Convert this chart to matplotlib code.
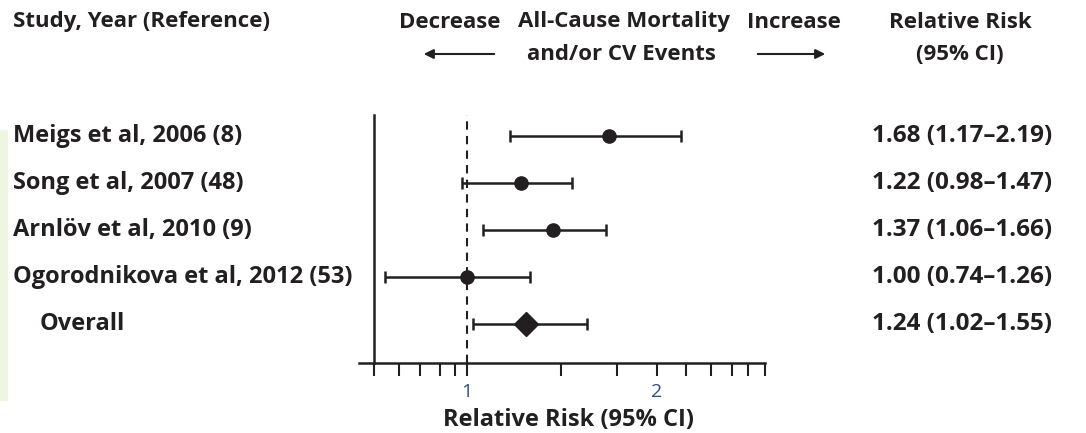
import numpy as np
import matplotlib as mpl
mpl.use("Agg")
import matplotlib.pyplot as plt
from matplotlib.transforms import blended_transform_factory
from matplotlib.patches import Rectangle, FancyArrowPatch

plt.rcParams['font.family'] = ['Open Sans', 'DejaVu Sans']
plt.rcParams['font.weight'] = 'bold'

ink = '#231f20'
tick_blue = '#2f4f86'

# data
studies = ['Meigs et al, 2006 (8)', 'Song et al, 2007 (48)', 'Arnlöv et al, 2010 (9)',
           'Ogorodnikova et al, 2012 (53)', 'Overall']
rr = [1.68, 1.22, 1.37, 1.00, 1.24]
ci_low = [1.17, 0.98, 1.06, 0.74, 1.02]
ci_high = [2.19, 1.47, 1.66, 1.26, 1.55]
tick_vals = [0.71, 0.78, 0.84, 0.905, 0.955, 1, 1.41, 1.73, 2, 2.23, 2.44, 2.64, 2.8, 2.97]
tick_text = ['', '', '', '', '', '1', '', '', '2', '', '', '', '', '']

W, H = 1086, 433
fig = plt.figure(figsize=(W / 100, H / 100), dpi=100)
ax = fig.add_axes([359 / W, 1 - 362.7 / H, (765 - 359) / W, (362.7 - 115) / H])

# faint green strip at left edge
fig.patches.append(Rectangle((0, 1 - 400 / H), 7 / W, 270 / H, transform=fig.transFigure,
                             color='#eef5e2', zorder=0))

ypos = np.arange(len(studies))[::-1] + 1.0

for i in range(len(studies)):
    last = i == len(studies) - 1
    ax.errorbar(rr[i], ypos[i],
                xerr=[[rr[i] - ci_low[i]], [ci_high[i] - rr[i]]],
                fmt='D' if last else 'o', color=ink, ecolor=ink,
                markersize=12 if last else 9.5, elinewidth=1.8,
                capsize=4, capthick=1.8, zorder=3)

ax.axvline(1, color=ink, lw=1.5, ls=(0, (4, 3)), zorder=1)

ax.set_xscale('log')
ax.set_xlim(0.673, 2.975)
ax.set_ylim(0.18, 5.45)
ax.minorticks_off()
ax.set_xticks(tick_vals)
ax.set_xticklabels(tick_text)
ax.xaxis.set_minor_locator(mpl.ticker.NullLocator())
ax.tick_params(axis='x', direction='out', length=9.5, width=1.5, color=ink,
               labelsize=14, labelcolor=tick_blue, pad=5)
for lab in ax.get_xticklabels():
    lab.set_fontweight('normal')
ax.set_yticks([])
ax.spines['top'].set_visible(False)
ax.spines['right'].set_visible(False)
ax.spines['left'].set_position(('data', 0.71))
for s in ['left', 'bottom']:
    ax.spines[s].set_linewidth(1.8)
    ax.spines[s].set_color(ink)
ax.set_xlabel('Relative Risk (95% CI)', fontsize=17, fontweight='bold', color=ink,
              labelpad=5)
ax.xaxis.label.set_x(0.517)

# row labels
trans = blended_transform_factory(fig.transFigure, ax.transData)
for i, name in enumerate(studies):
    x0 = 40 if i == len(studies) - 1 else 13
    ax.text(x0 / W, ypos[i], name, transform=trans, ha='left', va='center',
            fontsize=17, color=ink)
    ax.text(872 / W, ypos[i], f'{rr[i]:.2f} ({ci_low[i]:.2f}\u2013{ci_high[i]:.2f})',
            transform=trans, ha='left', va='center', fontsize=17.5, color=ink)

# header
hdr = dict(fontsize=16, color=ink, va='center')
fig.text(13 / W, 1 - 22 / H, 'Study, Year (Reference)', ha='left', **hdr)
fig.text(450 / W, 1 - 22 / H, 'Decrease', ha='center', **hdr)
fig.text(624 / W, 1 - 22 / H, 'All-Cause Mortality', ha='center', **hdr)
fig.text(794 / W, 1 - 22 / H, 'Increase', ha='center', **hdr)
fig.text(621 / W, 1 - 55 / H, 'and/or CV Events', ha='center', **hdr)
fig.text(960 / W, 1 - 22 / H, 'Relative Risk', ha='center', **hdr)
fig.text(960 / W, 1 - 55 / H, '(95% CI)', ha='center', **hdr)
arrow = dict(arrowstyle='-|>', color=ink, lw=1.5, mutation_scale=14)
fig.patches.append(FancyArrowPatch((497 / W, 1 - 54 / H), (421 / W, 1 - 54 / H),
                                   transform=fig.transFigure, **arrow))
fig.patches.append(FancyArrowPatch((755 / W, 1 - 54 / H), (828 / W, 1 - 54 / H),
                                   transform=fig.transFigure, **arrow))

fig.savefig('out.png', dpi=100)
